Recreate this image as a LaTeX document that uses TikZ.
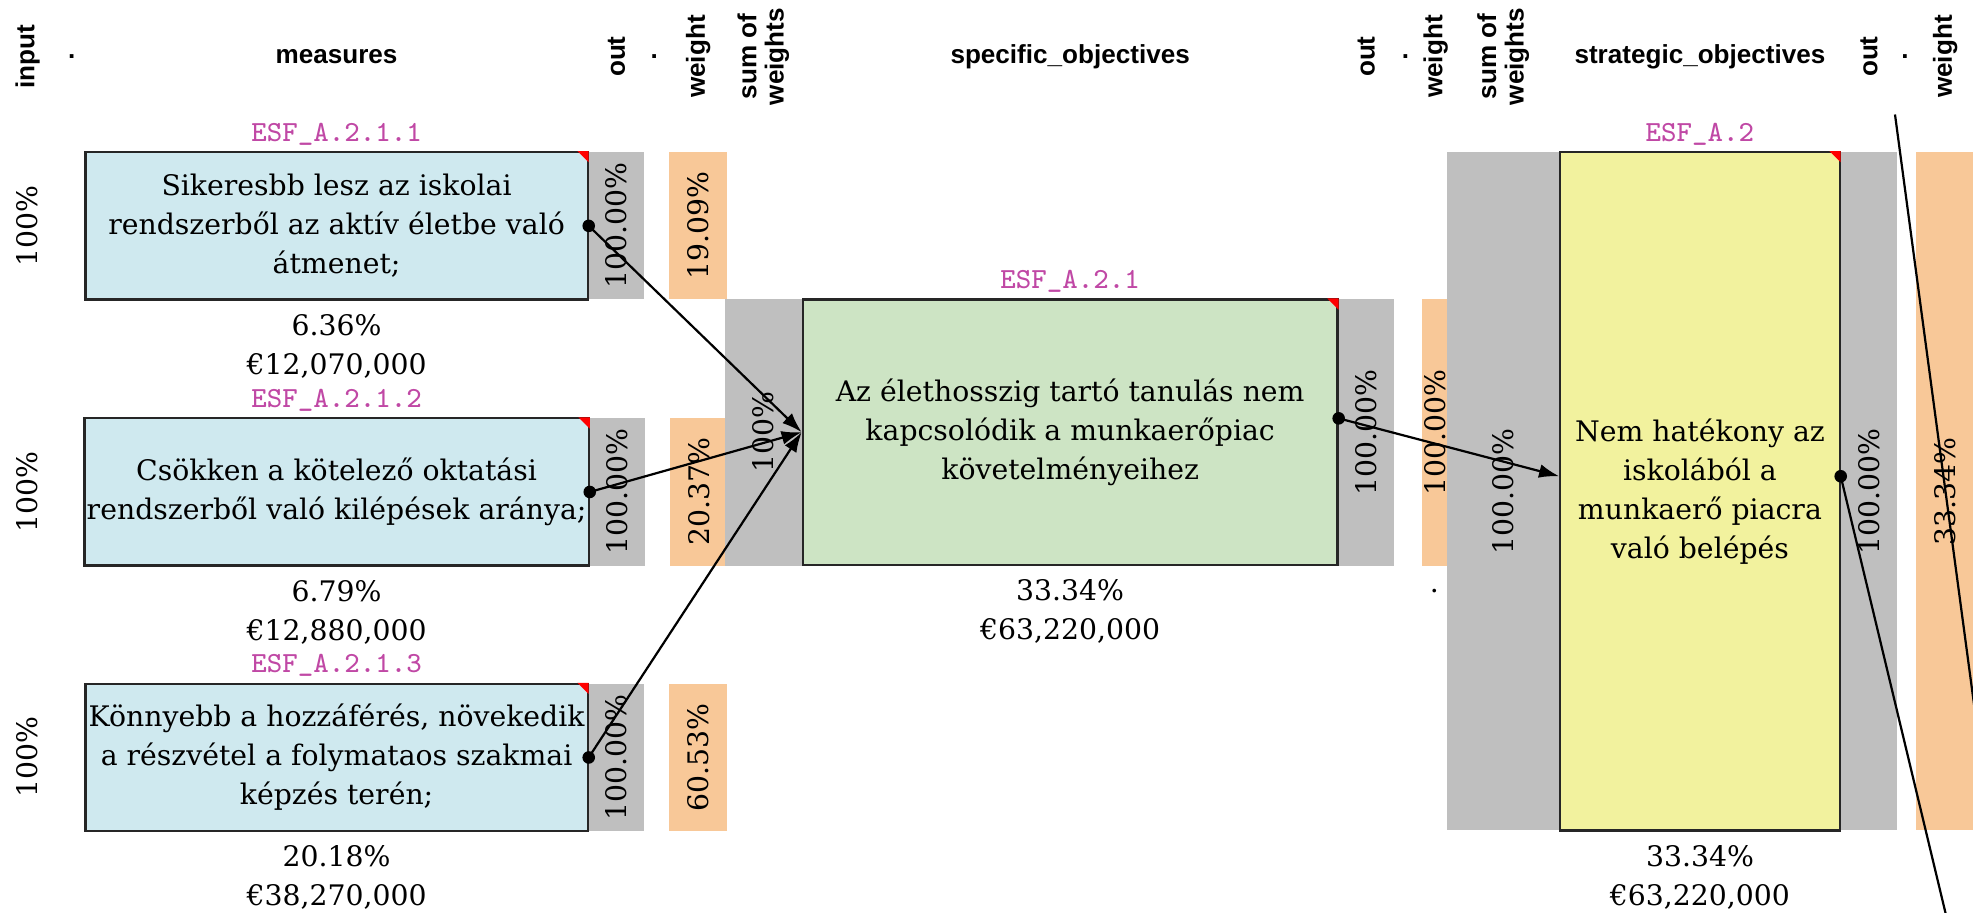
\documentclass[tikz,border=0pt]{standalone}
\usepackage{fontspec}
\setmainfont{DejaVu Serif}
\newfontfamily\hdrfont{Liberation Sans}
\usetikzlibrary{arrows.meta,positioning,calc}

\definecolor{measfill}{RGB}{207,233,239}
\definecolor{specfill}{RGB}{205,228,196}
\definecolor{stratfill}{RGB}{242,242,158}
\definecolor{bargrey}{RGB}{191,191,191}
\definecolor{barorange}{RGB}{248,200,152}
\definecolor{idpink}{RGB}{192,72,165}

\tikzset{
  numfont/.style={font=\fontsize{6.4}{8.8}\selectfont},
  hdr/.style={font=\hdrfont\bfseries\fontsize{5.9}{6.2}\selectfont, inner sep=0pt},
  vhdr/.style={hdr, rotate=90, align=center},
  anybox/.style={draw=black!85, line width=0.5pt, inner sep=0.5pt, align=center, numfont},
  measbox/.style={anybox, fill=measfill, minimum width=39.9mm, minimum height=11.7mm},
  specbox/.style={anybox, fill=specfill, minimum width=42.5mm, minimum height=21.1mm},
  stratbox/.style={anybox, fill=stratfill, minimum width=22.2mm, minimum height=53.9mm},
  outbar/.style={fill=bargrey, outer sep=0pt, inner sep=0pt, minimum width=4.4mm, minimum height=#1, numfont},
  wbar/.style={fill=barorange, outer sep=0pt, inner sep=0pt, minimum width=4.6mm, minimum height=#1, numfont},
  esf/.style={font=\ttfamily\fontsize{6.6}{7}\selectfont, text=idpink, inner sep=0pt},
  num/.style={numfont, align=center, inner sep=0pt},
  port/.style={circle, fill=black, inner sep=0pt, minimum size=1mm}
}

\begin{document}
\begin{tikzpicture}[x=0.1mm, y=-0.1mm, >={Latex[length=1.6mm,width=1.1mm]}, line width=0.5pt]
    \useasboundingbox (0,0) rectangle (1568,725);
    \clip (0,0) rectangle (1568,725);
    \coordinate (hrow) at (0,45);

    % measures
    \node[measbox] (m1) at (267.5,179.5) {Sikeresbb lesz az iskolai\\rendszerből az aktív életbe való\\átmenet;};
    \node[measbox] (m2) at (267.5,391) {Csökken a kötelező oktatási\\rendszerből való kilépések aránya;};
    \node[measbox] (m3) at (267.5,602) {Könnyebb a hozzáférés, növekedik\\a részvétel a folymataos szakmai\\képzés terén;};

    \node[outbar=11.7mm, right=0pt of m1] (m1o) {\rotatebox{90}{100.00\%}};
    \node[outbar=11.7mm, right=0pt of m2] (m2o) {\rotatebox{90}{100.00\%}};
    \node[outbar=11.7mm, right=0pt of m3] (m3o) {\rotatebox{90}{100.00\%}};
    \node[wbar=11.7mm, right=2mm of m1o] (m1w) {\rotatebox{90}{19.09\%}};
    \node[wbar=11.7mm, right=2mm of m2o] (m2w) {\rotatebox{90}{20.37\%}};
    \node[wbar=11.7mm, right=2mm of m3o] (m3w) {\rotatebox{90}{60.53\%}};

    % specific objective
    \node[specbox] (sp) at (850.5,343.5) {Az élethosszig tartó tanulás nem\\kapcsolódik a munkaerőpiac\\követelményeihez};
    \node[outbar=21.2mm, minimum width=6.1mm, left=0pt of sp] (sps) {\rotatebox{90}{100\%}};
    \node[outbar=21.2mm, right=0pt of sp] (spo) {\rotatebox{90}{100.00\%}};
    \node[wbar=21.2mm, minimum width=2.2mm, right=2.2mm of spo] (spw) {\rotatebox{90}{100.00\%}};

    % strategic objective
    \node[stratbox] (st) at (1351,390.5) {Nem hatékony az\\iskolából a\\munkaerő piacra\\való belépés};
    \node[outbar=53.9mm, minimum width=8.9mm, left=0pt of st] (sts) {\rotatebox{90}{100.00\%}};
    \node[outbar=53.9mm, minimum width=4.5mm, right=0pt of st] (sto) {\rotatebox{90}{100.00\%}};
    \node[wbar=53.9mm, right=1.5mm of sto] (stw) {\rotatebox{90}{33.34\%}};

    \foreach \b in {m1,m2,m3,sp,st}
        \fill[red] ($(\b.north east)+(-9,0)$) -- (\b.north east) -- ++(0,9) -- cycle;

    % ids and totals
    \node[esf, above=0.4mm of m1] {ESF\_A.2.1.1};
    \node[esf, above=0.4mm of m2] {ESF\_A.2.1.2};
    \node[esf, above=0.4mm of m3] {ESF\_A.2.1.3};
    \node[esf, above=0.4mm of sp] {ESF\_A.2.1};
    \node[esf, above=0.4mm of st] {ESF\_A.2};
    \node[num, below=1mm of m1] (m1t) {6.36\%\\€12,070,000};
    \node[num, below=1mm of m2] (m2t) {6.79\%\\€12,880,000};
    \node[num, below=1mm of m3] (m3t) {20.18\%\\€38,270,000};
    \node[num, below=1mm of sp] (spt) {33.34\%\\€63,220,000};
    \node[num, below=1mm of st] (stt) {33.34\%\\€63,220,000};
    \node[num] (spdot) at (1140,470) {.};

    % header row
    \node[vhdr] (inp) at (22,45) {input};
    \node[hdr] at (57,45) {.};
    \node[hdr] at (m1 |- hrow) {measures};
    \node[vhdr] at (m1o |- hrow) {out};
    \node[hdr] at (520,45) {.};
    \node[vhdr] at (m1w |- hrow) {weight};
    \node[vhdr] at (sps |- hrow) {sum of\\weights};
    \node[hdr] at (sp |- hrow) {specific\_objectives};
    \node[vhdr] at (spo |- hrow) {out};
    \node[hdr] at (1117,45) {.};
    \node[vhdr] at (spw |- hrow) {weight};
    \node[vhdr] at (sts |- hrow) {sum of\\weights};
    \node[hdr] at (st |- hrow) {strategic\_objectives};
    \node[vhdr] at (sto |- hrow) {out};
    \node[hdr] at (1514,45) {.};
    \node[vhdr] at (stw |- hrow) {weight};

    \node[num, rotate=90] at (inp |- m1) {100\%};
    \node[num, rotate=90] at (inp |- m2) {100\%};
    \node[num, rotate=90] at (inp |- m3) {100\%};

    % connectors
    \node[port] (m1p) at (m1.east) {};
    \node[port] (m2p) at (m2.east) {};
    \node[port] (m3p) at (m3.east) {};
    \node[port] (spp) at ($(sp.east)+(0,-11)$) {};
    \node[port] (stp) at ($(st.east)+(0,-12)$) {};
    \coordinate (stin) at ($(st.west)+(0,-12)$);
    \coordinate (nextin) at (1564,800);
    \coordinate (prevout) at (1506,91);
    \coordinate (previn) at (1601,800);

    \draw[->] (m1p.center) -- (sp.west);
    \draw[->] (m2p.center) -- (sp.west);
    \draw[->] (m3p.center) -- (sp.west);
    \draw[->] (spp.center) -- (stin);
    \draw (stp.center) -- (nextin);
    \draw (prevout) -- (previn);
\end{tikzpicture}
\end{document}
